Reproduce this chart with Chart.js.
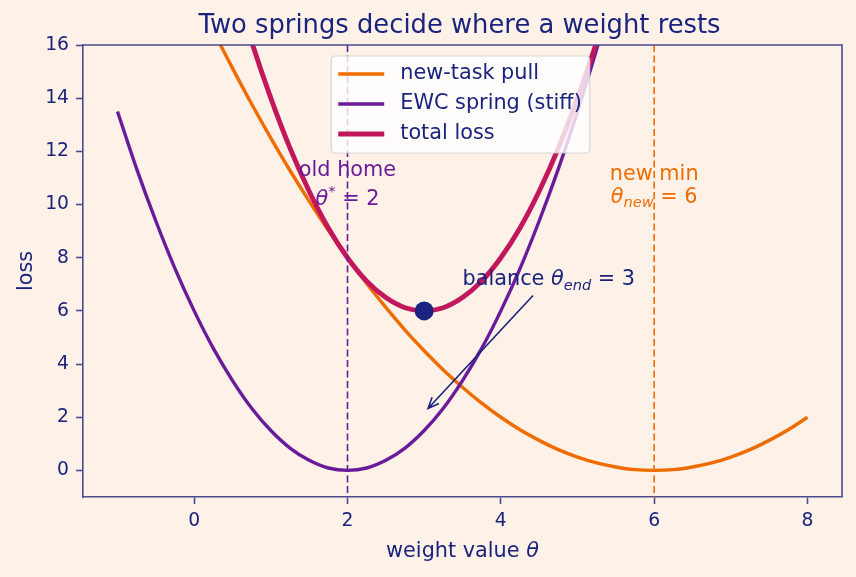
<!DOCTYPE html>
<html>
<head>
<meta charset="utf-8">
<script src="https://cdn.jsdelivr.net/npm/chart.js@4"></script>
<style>
  html, body { margin: 0; padding: 0; background: #fef2e8; }
  #wrap { width: 856px; height: 577px; }
</style>
</head>
<body>
<div id="wrap"><canvas id="chart" width="856" height="577"></canvas></div>
<script>
// weight values sampled along the x axis
const thetas = [-1, -0.75, -0.5, -0.25, 0, 0.25, 0.5, 0.75, 1, 1.25, 1.5, 1.75, 2, 2.25, 2.5, 2.75, 3, 3.25, 3.5,
  3.75, 4, 4.25, 4.5, 4.75, 5, 5.25, 5.5, 5.75, 6, 6.25, 6.5, 6.75, 7, 7.25, 7.5, 7.75, 8];
const newTaskPull = [24.5, 22.78, 21.13, 19.53, 18, 16.53, 15.13, 13.78, 12.5, 11.28, 10.13, 9.03, 8, 7.03, 6.13,
  5.28, 4.5, 3.78, 3.13, 2.53, 2, 1.53, 1.13, 0.78, 0.5, 0.28, 0.13, 0.03, 0, 0.03, 0.13, 0.28, 0.5, 0.78, 1.13, 1.53, 2];
const ewcSpring = [13.5, 11.34, 9.38, 7.59, 6, 4.59, 3.38, 2.34, 1.5, 0.84, 0.38, 0.09, 0, 0.09, 0.38, 0.84, 1.5,
  2.34, 3.38, 4.59, 6, 7.59, 9.38, 11.34, 13.5, 15.84, 18.38, 21.09, 24, 27.09, 30.38, 33.84, 37.5, 41.34, 45.38, 49.59, 54];
const totalLoss = [38, 34.12, 30.5, 27.12, 24, 21.12, 18.5, 16.12, 14, 12.12, 10.5, 9.12, 8, 7.12, 6.5, 6.12, 6,
  6.12, 6.5, 7.12, 8, 9.12, 10.5, 12.12, 14, 16.12, 18.5, 21.12, 24, 27.12, 30.5, 34.12, 38, 42.12, 46.5, 51.12, 56];
const balanceTheta = [3];
const balanceLoss = [6];
const oldHome = 2;
const newMin = 6;
const xTicks = [0, 2, 4, 6, 8];
const yTicks = [0, 2, 4, 6, 8, 10, 12, 14, 16];

const NAVY = "#1a237e";
const FRAME = "#4a4a8e";
const ORANGE = "#ef6c00";
const PURPLE = "#6a1b9a";
const CRIMSON = "#c2185b";
const BG = "#fef2e8";
const FAM = '"DejaVu Sans", sans-serif';

function pts(ys) {
  return thetas.map((t, i) => ({ x: t, y: ys[i] }));
}

// draws text pieces like "θ_end" with italic / sub / sup pieces
function drawParts(ctx, parts, x, y, align, size, color) {
  const fontOf = p => {
    const small = p[1].includes("s") || p[1].includes("p");
    return (p[1].includes("i") ? "italic " : "") + (small ? size * 0.7 : size) + "px " + FAM;
  };
  let w = 0;
  parts.forEach(p => { ctx.font = fontOf(p); w += ctx.measureText(p[0]).width; });
  let cx = align === "center" ? x - w / 2 : x;
  ctx.fillStyle = color;
  ctx.textAlign = "left";
  ctx.textBaseline = "alphabetic";
  parts.forEach(p => {
    ctx.font = fontOf(p);
    let dy = 0;
    if (p[1].includes("s")) dy = size * 0.22;
    if (p[1].includes("p")) dy = -size * 0.42;
    ctx.fillText(p[0], cx, y + dy);
    cx += ctx.measureText(p[0]).width;
  });
}

const decor = {
  id: "decor",
  beforeDraw(chart) {
    const ctx = chart.ctx;
    ctx.save();
    ctx.fillStyle = BG;
    ctx.fillRect(0, 0, chart.width, chart.height);
    ctx.restore();
  },
  afterDatasetsDraw(chart) {
    const ctx = chart.ctx;
    const a = chart.chartArea;
    const xs = chart.scales.x, ys = chart.scales.y;
    ctx.save();

    // dashed guide lines
    ctx.lineWidth = 1.6;
    ctx.setLineDash([7, 3.5]);
    [[oldHome, PURPLE], [newMin, ORANGE]].forEach(([v, c]) => {
      const px = xs.getPixelForValue(v);
      ctx.strokeStyle = c;
      ctx.beginPath();
      ctx.moveTo(px, a.top);
      ctx.lineTo(px, a.bottom);
      ctx.stroke();
    });
    ctx.setLineDash([]);

    // frame top/right
    ctx.strokeStyle = FRAME;
    ctx.lineWidth = 1.6;
    ctx.beginPath();
    ctx.moveTo(a.left, a.top);
    ctx.lineTo(a.right, a.top);
    ctx.lineTo(a.right, a.bottom);
    ctx.stroke();

    // annotations
    const fs = 20.8;
    const y10 = ys.getPixelForValue(10);
    const xo = xs.getPixelForValue(oldHome);
    drawParts(ctx, [["old home", ""]], xo, y10 - 29, "center", fs, PURPLE);
    drawParts(ctx, [["θ", "i"], ["*", "p"], [" = 2", ""]], xo, y10, "center", fs, PURPLE);
    const xn = xs.getPixelForValue(newMin);
    drawParts(ctx, [["new min", ""]], xn, y10 - 25, "center", fs, ORANGE);
    drawParts(ctx, [["θ", "i"], ["new", "is"], [" = 6", ""]], xn, y10 - 2, "center", fs, ORANGE);

    drawParts(ctx, [["balance ", ""], ["θ", "i"], ["end", "is"], [" = 3", ""]],
      xs.getPixelForValue(3.5), ys.getPixelForValue(7) + 1, "left", fs, NAVY);

    // arrow
    const x1 = xs.getPixelForValue(4.42), y1 = ys.getPixelForValue(6.58);
    const x2 = xs.getPixelForValue(3.05), y2 = ys.getPixelForValue(2.33);
    const ang = Math.atan2(y2 - y1, x2 - x1);
    ctx.strokeStyle = NAVY;
    ctx.lineWidth = 1.6;
    ctx.beginPath();
    ctx.moveTo(x1, y1);
    ctx.lineTo(x2, y2);
    ctx.moveTo(x2 - 12 * Math.cos(ang - 0.4), y2 - 12 * Math.sin(ang - 0.4));
    ctx.lineTo(x2, y2);
    ctx.lineTo(x2 - 12 * Math.cos(ang + 0.4), y2 - 12 * Math.sin(ang + 0.4));
    ctx.stroke();

    // legend
    const items = [["new-task pull", ORANGE, 3.3], ["EWC spring (stiff)", PURPLE, 3.3], ["total loss", CRIMSON, 4.8]];
    ctx.font = fs + "px " + FAM;
    const tw = Math.max(...items.map(it => ctx.measureText(it[0]).width));
    const bw = 7 + 46 + 16 + tw + 8;
    const cx = (a.left + a.right) / 2;
    const bx = cx - bw / 2 - 2, by = a.top + 11, bh = 97;
    ctx.fillStyle = "rgba(255,255,255,0.8)";
    ctx.strokeStyle = "rgba(204,204,204,0.8)";
    ctx.lineWidth = 1.2;
    ctx.beginPath();
    ctx.roundRect(bx, by, bw, bh, 4);
    ctx.fill();
    ctx.stroke();
    items.forEach((it, i) => {
      const ry = by + 18 + i * 30;
      ctx.strokeStyle = it[1];
      ctx.lineWidth = it[2];
      ctx.beginPath();
      ctx.moveTo(bx + 7, ry);
      ctx.lineTo(bx + 53, ry);
      ctx.stroke();
      ctx.fillStyle = NAVY;
      ctx.font = fs + "px " + FAM;
      ctx.textAlign = "left";
      ctx.textBaseline = "middle";
      ctx.fillText(it[0], bx + 69, ry);
    });

    // title and axis titles
    ctx.fillStyle = NAVY;
    ctx.font = "25.8px " + FAM;
    ctx.textAlign = "center";
    ctx.textBaseline = "alphabetic";
    ctx.fillText("Two springs decide where a weight rests", cx - 3, 33);

    drawParts(ctx, [["weight value ", ""], ["θ", "i"]], cx, 557, "center", fs, NAVY);

    ctx.save();
    ctx.translate(32, (a.top + a.bottom) / 2);
    ctx.rotate(-Math.PI / 2);
    ctx.fillStyle = NAVY;
    ctx.font = fs + "px " + FAM;
    ctx.textAlign = "center";
    ctx.textBaseline = "alphabetic";
    ctx.fillText("loss", 0, 0);
    ctx.restore();

    ctx.restore();
  }
};

const lineStyle = (color, w, order) => ({
  borderColor: color,
  backgroundColor: color,
  borderWidth: w,
  pointRadius: 0,
  cubicInterpolationMode: "monotone",
  clip: 0,
  order: order
});

new Chart(document.getElementById("chart"), {
  type: "line",
  data: {
    datasets: [
      { label: "new-task pull", data: pts(newTaskPull), ...lineStyle(ORANGE, 3.4, 3) },
      { label: "EWC spring (stiff)", data: pts(ewcSpring), ...lineStyle(PURPLE, 3.4, 2) },
      { label: "total loss", data: pts(totalLoss), ...lineStyle(CRIMSON, 4.9, 1) },
      {
        label: "balance",
        data: balanceTheta.map((t, i) => ({ x: t, y: balanceLoss[i] })),
        showLine: false,
        pointRadius: 9.5,
        pointBackgroundColor: NAVY,
        pointBorderWidth: 0,
        clip: false,
        order: 0
      }
    ]
  },
  options: {
    responsive: false,
    animation: false,
    layout: { padding: { top: 45, right: 14, left: 0, bottom: 0 } },
    plugins: { legend: { display: false }, tooltip: { enabled: false }, title: { display: false } },
    scales: {
      x: {
        type: "linear",
        min: -1.45,
        max: 8.45,
        afterBuildTicks: s => { s.ticks = xTicks.map(v => ({ value: v })); },
        afterFit: s => { s.height = 80; },
        ticks: { color: NAVY, font: { size: 18.75, family: FAM }, padding: 6, maxRotation: 0, autoSkip: false },
        grid: { drawOnChartArea: false, tickLength: 7, tickColor: FRAME, tickWidth: 1.6 },
        border: { color: FRAME, width: 1.6 }
      },
      y: {
        min: -1,
        max: 16,
        afterBuildTicks: s => { s.ticks = yTicks.map(v => ({ value: v })); },
        afterFit: s => { s.width = 83; },
        ticks: { color: NAVY, font: { size: 18.75, family: FAM }, padding: 7, autoSkip: false },
        grid: { drawOnChartArea: false, tickLength: 7, tickColor: FRAME, tickWidth: 1.6 },
        border: { color: FRAME, width: 1.6 }
      }
    }
  },
  plugins: [decor]
});
</script>
</body>
</html>
